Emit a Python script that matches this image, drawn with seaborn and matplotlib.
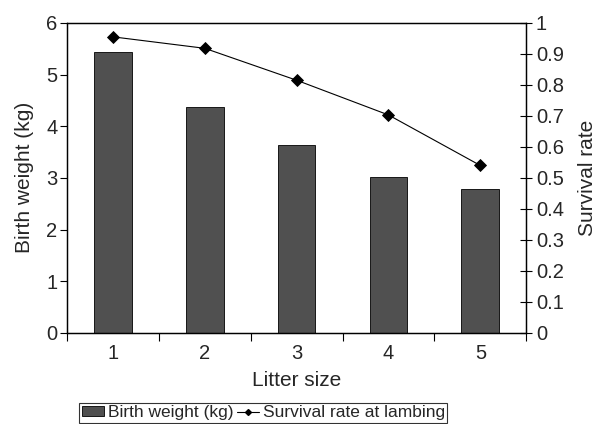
import numpy as np
import pandas as pd
import seaborn as sns
import matplotlib.pyplot as plt
from matplotlib.lines import Line2D
from matplotlib.patches import Patch

# data
litter_size = ["1", "2", "3", "4", "5"]
birth_weight = [5.44, 4.38, 3.63, 3.02, 2.78]
survival_rate = [0.955, 0.918, 0.815, 0.703, 0.540]

sns.set_theme(style="white")
plt.rcParams['font.family'] = ['Liberation Sans', 'DejaVu Sans']

df = pd.DataFrame({"litter": litter_size, "weight": birth_weight, "survival": survival_rate})

fig = plt.figure(figsize=(5.98, 4.24), dpi=100)
ax = fig.add_axes([0.112, 0.215, 0.768, 0.731])

sns.barplot(data=df, x="litter", y="weight", ax=ax, color="#505050",
            width=0.41, edgecolor="black", linewidth=0.6, saturation=1)

ax2 = ax.twinx()
sns.pointplot(data=df, x="litter", y="survival", ax=ax2, color="black",
              markers="D", markersize=6, linewidth=0.8)

ax.set_xlim(-0.5, 4.5)
ax.set_ylim(0, 6)
ax2.set_ylim(0, 1)
ax.set_yticks(range(0, 7))
ax2.set_yticks(np.round(np.arange(0, 1.01, 0.1), 1))
ax2.set_yticklabels(["0", "0.1", "0.2", "0.3", "0.4", "0.5", "0.6", "0.7", "0.8", "0.9", "1"])

ax.set_xlabel("Litter size", fontsize=15, labelpad=6)
ax.set_ylabel("Birth weight (kg)", fontsize=15, labelpad=9)
ax2.set_ylabel("Survival rate", fontsize=15, labelpad=10)

# ticks: labels at category centres, marks at category boundaries
ax.set_xticks(np.arange(-0.5, 5, 1), minor=True)
ax.tick_params(axis="x", which="major", length=0, labelsize=14.5, pad=8)
ax.tick_params(axis="x", which="minor", length=6, width=0.8, color="black", direction="out", bottom=True)
ax.tick_params(axis="y", length=5, width=0.8, color="black", direction="out", left=True, labelsize=14.5, pad=2)
ax2.tick_params(axis="y", length=8, width=0.8, color="black", direction="inout", right=True, labelsize=14.5, pad=3)

for a in (ax, ax2):
    for s in a.spines.values():
        s.set_color("black")
        s.set_linewidth(0.9)

handles = [Patch(facecolor="#505050", edgecolor="black", linewidth=0.6),
           Line2D([], [], color="black", marker="D", markersize=3, linewidth=0.8)]
leg = fig.legend(handles, ["Birth weight (kg)", "Survival rate at lambing"],
                 loc="lower center", bbox_to_anchor=(0.44, -0.018), ncol=2,
                 frameon=True, fancybox=False, fontsize=12.5, handlelength=1.3,
                 handletextpad=0.2, columnspacing=0.2, borderpad=0.15,
                 handleheight=0.45)
leg.get_frame().set_edgecolor("black")
leg.get_frame().set_linewidth(0.8)

fig.savefig("out.png", dpi=100)
